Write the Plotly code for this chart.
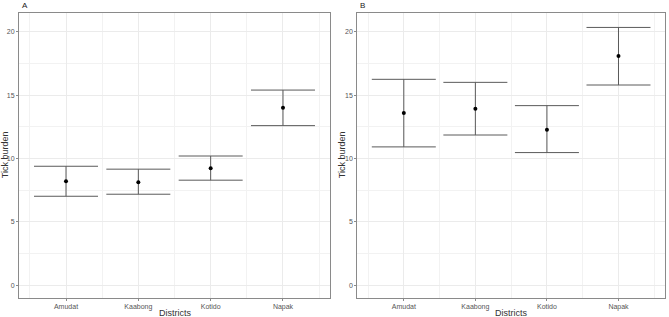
import plotly.graph_objects as go

districts = ["Amudat", "Kaabong", "Kotido", "Napak"]

a_mean = [8.21, 8.13, 9.23, 14.02]
a_lower = [7.02, 7.18, 8.29, 12.60]
a_upper = [9.39, 9.16, 10.20, 15.41]

b_mean = [13.60, 13.94, 12.28, 18.10]
b_lower = [10.92, 11.86, 10.47, 15.81]
b_upper = [16.26, 16.02, 14.18, 20.36]

y_ticks = [0, 5, 10, 15, 20]

W, H = 669, 317
xpos = list(range(1, len(districts) + 1))

fig = go.Figure()

panels = [
    ("A", a_mean, a_lower, a_upper, "x", "y", (19, 330), 5),
    ("B", b_mean, b_lower, b_upper, "x2", "y2", (357.3, 665), 342),
]
top_px, bot_px = 13, 297.5
font_fam = "Liberation Sans, Arial"

for label, mean, lo, hi, xa, ya, (l, r), ytx in panels:
    fig.add_trace(go.Scatter(
        x=xpos, y=mean, mode="markers", xaxis=xa, yaxis=ya,
        marker=dict(color="black", size=4),
        error_y=dict(type="data", symmetric=False,
                     array=[h - m for h, m in zip(hi, mean)],
                     arrayminus=[m - v for m, v in zip(mean, lo)],
                     color="#5a5a5a", thickness=1, width=32),
        showlegend=False, hoverinfo="skip",
    ))
    axis_common = dict(
        showline=True, mirror=True, linecolor="#8a8a8a", linewidth=1,
        gridcolor="#ebebeb", gridwidth=1, zeroline=False,
        ticks="outside", ticklen=2, tickcolor="#8a8a8a",
        tickfont=dict(family=font_fam, size=7, color="#555555"),
    )
    xname = "xaxis" if xa == "x" else "xaxis2"
    yname = "yaxis" if ya == "y" else "yaxis2"
    fig.update_layout(**{
        xname: dict(
            axis_common, domain=[l / W, r / W], anchor=ya,
            range=[0.35, 4.65], tickvals=xpos, ticktext=districts,
            minor=dict(tickvals=[0.5, 1.5, 2.5, 3.5, 4.5], showgrid=True,
                       gridcolor="#f2f2f2", gridwidth=0.6, ticks=""),
        ),
        yname: dict(
            axis_common, domain=[1 - bot_px / H, 1 - top_px / H], anchor=xa,
            range=[-0.98, 21.5], tickvals=y_ticks,
            minor=dict(tickvals=[2.5, 7.5, 12.5, 17.5], showgrid=True,
                       gridcolor="#f2f2f2", gridwidth=0.6, ticks=""),
        ),
    })
    fig.add_annotation(text=label, xref="paper", yref="paper",
                       x=(l + 1) / W, y=1 - 5 / H, xanchor="left", yanchor="middle",
                       showarrow=False,
                       font=dict(family=font_fam, size=8, color="#222222"))
    fig.add_annotation(text="Districts", xref="paper", yref="paper",
                       x=(l + r) / 2 / W, y=1 - 312.5 / H, xanchor="center", yanchor="middle",
                       showarrow=False,
                       font=dict(family=font_fam, size=9, color="#333333"))
    fig.add_annotation(text="Tick burden", xref="paper", yref="paper",
                       x=ytx / W, y=1 - (top_px + bot_px) / 2 / H,
                       xanchor="center", yanchor="middle", textangle=-90,
                       showarrow=False,
                       font=dict(family=font_fam, size=9, color="#333333"))

fig.update_layout(
    width=W, height=H, margin=dict(l=0, r=0, t=0, b=0),
    paper_bgcolor="white", plot_bgcolor="white",
)

fig.write_html("out.html", config={"displayModeBar": False},
               post_script="document.body.style.margin='0';document.body.style.overflow='hidden';")
